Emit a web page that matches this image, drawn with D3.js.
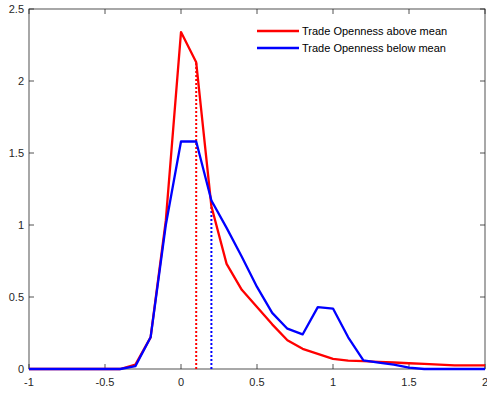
<!DOCTYPE html>
<html><head><meta charset="utf-8">
<script src="https://cdn.jsdelivr.net/npm/d3@7"></script>
<style>body{margin:0;background:#fff}svg{display:block}text{font-family:"Liberation Sans",Arial,sans-serif}</style>
</head><body><svg id="c" width="487" height="394"></svg>
<script>
const xs = [-1,-0.9,-0.8,-0.7,-0.6,-0.5,-0.4,-0.3,-0.2,-0.1,0,0.1,0.2,0.3,0.4,0.5,0.6,0.7,0.8,0.9,1,1.1,1.2,1.3,1.4,1.5,1.6,1.7,1.8,1.9,2];
const above = [0,0,0,0,0,0,0,0.03,0.22,1.03,2.34,2.13,1.13,0.73,0.55,0.43,0.31,0.2,0.14,0.105,0.07,0.058,0.055,0.05,0.045,0.04,0.035,0.03,0.025,0.025,0.025];
const below = [0,0,0,0,0,0,0,0.02,0.22,1.0,1.58,1.58,1.17,0.98,0.78,0.57,0.39,0.28,0.24,0.43,0.42,0.22,0.06,0.045,0.03,0.01,0,0,0,0,0];
const meanAbove = [0.1, 2.13];
const meanBelow = [0.2, 1.17];
const xTicks = [-1,-0.5,0,0.5,1,1.5,2];
const yTicks = [0,0.5,1,1.5,2,2.5];
const legendLabels = ["Trade Openness above mean","Trade Openness below mean"];
const colors = ["#ff0000","#0000ff"];

const svg = d3.select("#c");
const L=29, R=485, T=9, B=369;
const x = d3.scaleLinear().domain([-1,2]).range([L,R]);
const y = d3.scaleLinear().domain([0,2.5]).range([B,T]);
const axisCol = "#262626";
const tick = 5;

svg.append("rect").attr("x",L).attr("y",T).attr("width",R-L).attr("height",B-T)
  .attr("fill","none").attr("stroke",axisCol).attr("stroke-width",0.8);

const fmt = d=>String(d);
const g = svg.append("g");
xTicks.forEach(t=>{
  g.append("line").attr("x1",x(t)).attr("x2",x(t)).attr("y1",B).attr("y2",B-tick).attr("stroke",axisCol).attr("stroke-width",0.8);
  g.append("line").attr("x1",x(t)).attr("x2",x(t)).attr("y1",T).attr("y2",T+tick).attr("stroke",axisCol).attr("stroke-width",0.8);
  g.append("text").attr("x",x(t)).attr("y",B+17).attr("text-anchor","middle").attr("font-size",11).attr("fill",axisCol).text(fmt(t));
});
yTicks.forEach(t=>{
  g.append("line").attr("x1",L).attr("x2",L+tick).attr("y1",y(t)).attr("y2",y(t)).attr("stroke",axisCol).attr("stroke-width",0.8);
  g.append("line").attr("x1",R).attr("x2",R-tick).attr("y1",y(t)).attr("y2",y(t)).attr("stroke",axisCol).attr("stroke-width",0.8);
  g.append("text").attr("x",L-5).attr("y",y(t)+4).attr("text-anchor","end").attr("font-size",11).attr("fill",axisCol).text(fmt(t));
});

const line = d3.line().x((d,i)=>x(xs[i])).y(d=>y(d));
[[meanAbove,colors[0]],[meanBelow,colors[1]]].forEach(([m,c])=>{
  svg.append("line").attr("x1",x(m[0])).attr("x2",x(m[0])).attr("y1",y(0)).attr("y2",y(m[1]))
    .attr("stroke",c).attr("stroke-width",2).attr("stroke-dasharray","2,2");
});
svg.append("path").datum(above).attr("d",line).attr("fill","none").attr("stroke",colors[0]).attr("stroke-width",2.3).attr("stroke-linejoin","round");
svg.append("path").datum(below).attr("d",line).attr("fill","none").attr("stroke",colors[1]).attr("stroke-width",2.3).attr("stroke-linejoin","round");

legendLabels.forEach((lab,i)=>{
  const ly = 31 + i*17;
  svg.append("line").attr("x1",257).attr("x2",299).attr("y1",ly).attr("y2",ly).attr("stroke",colors[i]).attr("stroke-width",2.3);
  svg.append("text").attr("x",302).attr("y",ly+4).attr("font-size",11).attr("fill","#000").text(lab);
});
</script></body></html>
